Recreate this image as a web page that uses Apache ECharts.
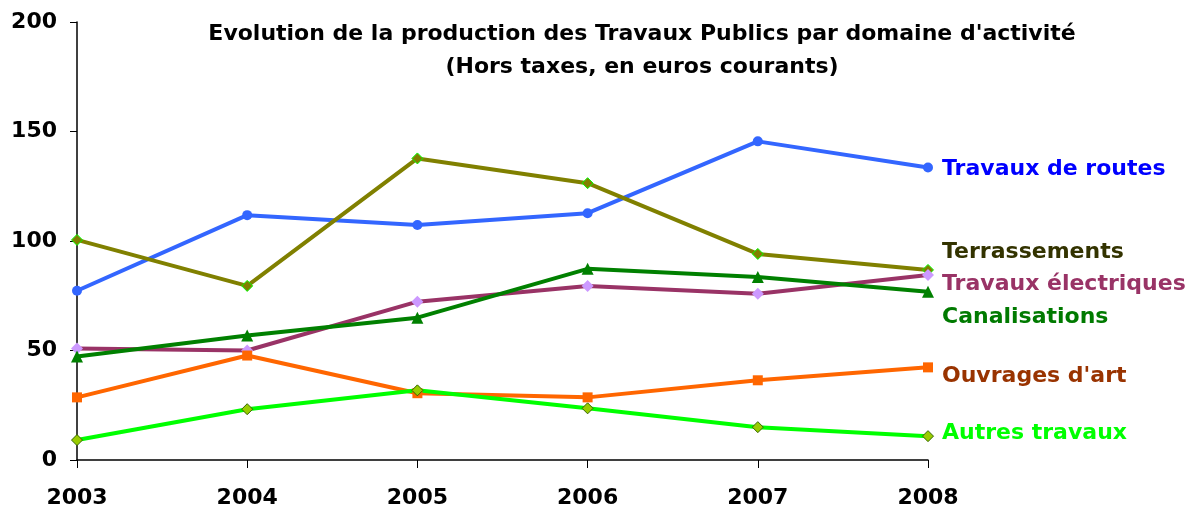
<!DOCTYPE html>
<html lang="fr">
<head>
<meta charset="UTF-8">
<title>Evolution de la production des Travaux Publics</title>
<script src="https://cdn.jsdelivr.net/npm/echarts@6/dist/echarts.min.js"></script>
<style>
  html, body { margin: 0; padding: 0; background: #fff; }
  #chart { width: 1188px; height: 509px; }
</style>
</head>
<body>
<div id="chart"></div>
<script type="text/javascript">
// annees
var years = ['2003', '2004', '2005', '2006', '2007', '2008'];
// valeurs
var routes = [77.3, 111.8, 107.3, 112.7, 145.5, 133.6];
var terrassements = [100.5, 79.5, 137.7, 126.4, 94.1, 86.8];
var electriques = [50.9, 50.0, 72.3, 79.5, 75.9, 84.5];
var canalisations = [47.3, 56.8, 65.0, 87.3, 83.6, 76.8];
var ouvrages = [28.6, 47.7, 30.5, 28.6, 36.4, 42.3];
var autres = [9.1, 23.2, 31.8, 23.6, 15.0, 10.9];
var yTicks = [0, 50, 100, 150, 200];

var font = 'DejaVu Sans';
var myChart = echarts.init(document.getElementById('chart'));

// fabrique une serie avec son etiquette en bout de ligne
function serie(name, data, lineColor, symbol, size, fill, border, labelColor, dy) {
    return {
        name: name,
        type: 'line',
        data: data,
        symbol: symbol,
        symbolSize: size,
        showAllSymbol: true,
        lineStyle: { color: lineColor, width: 4 },
        itemStyle: { color: fill, borderColor: border, borderWidth: border ? 1 : 0 },
        emphasis: { disabled: true },
        endLabel: {
            show: true,
            formatter: name,
            color: labelColor,
            fontFamily: font,
            fontWeight: 'bold',
            fontSize: 22,
            distance: 14,
            offset: [0, dy]
        },
        z: 2
    };
}

var option = {
    animation: false,
    title: {
        text: "Evolution de la production des Travaux Publics par domaine d'activité\n(Hors taxes, en euros courants)",
        left: 637,
        textAlign: 'center',
        top: 13,
        textStyle: { fontFamily: font, fontWeight: 'bold', fontSize: 22, color: '#000', lineHeight: 33 }
    },
    grid: { left: 77, right: 260, top: 22, bottom: 47 },
    xAxis: {
        type: 'category',
        data: years,
        boundaryGap: false,
        axisLine: { lineStyle: { color: '#000', width: 1.5 } },
        axisTick: { show: true, length: 8, lineStyle: { color: '#000' } },
        axisLabel: { color: '#000', fontFamily: font, fontWeight: 'bold', fontSize: 22, margin: 27 },
        splitLine: { show: false }
    },
    yAxis: {
        type: 'value',
        min: yTicks[0],
        max: yTicks[yTicks.length - 1],
        interval: 50,
        axisLine: { show: true, lineStyle: { color: '#000', width: 1.5 } },
        axisTick: { show: true, length: 7, lineStyle: { color: '#000' } },
        axisLabel: { color: '#000', fontFamily: font, fontWeight: 'bold', fontSize: 22, margin: 20 },
        splitLine: { show: false }
    },
    series: [
        serie('Travaux de routes', routes, '#3366FF', 'circle', 10, '#3366FF', null, '#0000FF', 2),
        serie('Terrassements', terrassements, '#808000', 'diamond', 11, '#808000', '#00FF00', '#333300', -18),
        serie('Travaux électriques', electriques, '#993366', 'diamond', 12, '#CC99FF', null, '#993366', 9),
        serie('Canalisations', canalisations, '#008000', 'triangle', 12, '#008000', null, '#007A00', 25),
        serie('Ouvrages d\'art', ouvrages, '#FF6600', 'rect', 10, '#FF6600', null, '#993300', 9),
        serie('Autres travaux', autres, '#00FF00', 'diamond', 11, '#99CC00', '#336600', '#00FF00', -3)
    ]
};
myChart.setOption(option);
</script>
</body>
</html>
